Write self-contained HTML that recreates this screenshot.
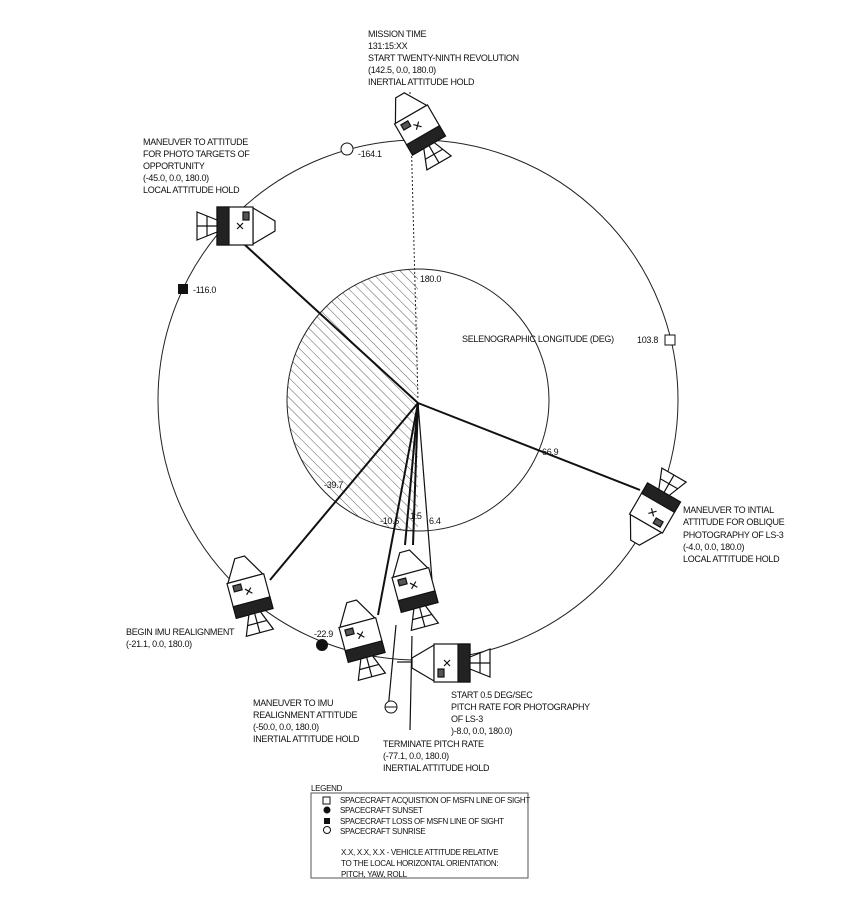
<!DOCTYPE html>
<html><head><meta charset="utf-8"><style>
body{margin:0;background:#fff}
svg{display:block}
text{font-family:"Liberation Sans",sans-serif;font-size:9px;letter-spacing:-0.3px;fill:#111}
</style></head><body>
<svg width="848" height="903" viewBox="0 0 848 903" xmlns="http://www.w3.org/2000/svg">
<defs>
<pattern id="h" width="7" height="7" patternUnits="userSpaceOnUse" patternTransform="rotate(-45)">
<line x1="0" y1="0" x2="0" y2="7" stroke="#333" stroke-width="0.8"/>
</pattern>
<clipPath id="lh"><rect x="0" y="0" width="418" height="903"/></clipPath>
<g id="sc" stroke="#111" stroke-width="1.2" fill="#fff">
<path d="M-5,-40 L5,-40 L18,-18 L-18,-18 Z"/>
<rect x="-19" y="-18" width="38" height="36"/>
<rect x="-19" y="6" width="38" height="12" fill="#222"/>
<path d="M-6,18 L6,18 L14,38 L-14,38 Z"/>
<line x1="0" y1="18" x2="0" y2="38"/>
<line x1="-10" y1="28" x2="10" y2="28"/>
<path d="M-3,-8 l6,6 m0,-6 l-6,6" />
<rect x="-14" y="-14" width="8" height="6" fill="#555"/>
</g>
</defs>
<circle cx="418" cy="400" r="260" fill="none" stroke="#222" stroke-width="1"/>
<circle cx="418" cy="400" r="131" fill="url(#h)" clip-path="url(#lh)"/>
<circle cx="418" cy="400" r="131" fill="none" stroke="#222" stroke-width="1"/>
<line x1="410" y1="92" x2="418" y2="400" stroke="#222" stroke-dasharray="2,2"/>
<g stroke="#111" stroke-width="2">
<line x1="418" y1="403" x2="245" y2="245"/>
<line x1="418" y1="403" x2="640" y2="490"/>
<line x1="418" y1="403" x2="270" y2="580"/>
<line x1="418" y1="403" x2="378" y2="615"/>
<line x1="418" y1="403" x2="405" y2="545"/>
<line x1="418" y1="403" x2="413" y2="545"/>
<line x1="418" y1="403" x2="432" y2="580" stroke-width="1.2"/>
<line x1="396" y1="625" x2="388" y2="710" stroke-width="1.2"/>
<line x1="412" y1="636" x2="410" y2="730" stroke-width="1.2"/>
<line x1="397" y1="662" x2="412" y2="662" stroke-width="1.2"/>
</g>
<use href="#sc" transform="translate(420,130) rotate(-30)"/>
<use href="#sc" transform="translate(235,226) rotate(90)"/>
<use href="#sc" transform="translate(655,508) rotate(-150)"/>
<use href="#sc" transform="translate(250,596) rotate(-15)"/>
<use href="#sc" transform="translate(362,640) rotate(-15)"/>
<use href="#sc" transform="translate(415,590) rotate(-15)"/>
<use href="#sc" transform="translate(452,663) rotate(-90)"/>
<circle cx="347" cy="149" r="6" fill="#fff" stroke="#111"/>
<rect x="178" y="284" width="10" height="10" fill="#111"/>
<rect x="665" y="335" width="10" height="10" fill="#fff" stroke="#111"/>
<circle cx="322" cy="645" r="6" fill="#111"/>
<circle cx="391" cy="707" r="6" fill="#fff" stroke="#111"/><line x1="385" y1="707" x2="397" y2="707" stroke="#111"/>
<text x="368" y="37">MISSION TIME</text>
<text x="368" y="49">131:15:XX</text>
<text x="368" y="61">START TWENTY-NINTH REVOLUTION</text>
<text x="368" y="73">(142.5, 0.0, 180.0)</text>
<text x="368" y="85">INERTIAL ATTITUDE HOLD</text>
<text x="143" y="145">MANEUVER TO ATTITUDE</text>
<text x="143" y="157">FOR PHOTO TARGETS OF</text>
<text x="143" y="169">OPPORTUNITY</text>
<text x="143" y="181">(-45.0, 0.0, 180.0)</text>
<text x="143" y="193">LOCAL ATTITUDE HOLD</text>
<text x="358" y="157">-164.1</text>
<text x="193" y="293">-116.0</text>
<text x="420" y="282">180.0</text>
<text x="462" y="342">SELENOGRAPHIC LONGITUDE (DEG)</text>
<text x="637" y="343">103.8</text>
<text x="542" y="455">66.9</text>
<text x="324" y="488">-39.7</text>
<text x="380" y="524">-10.6</text>
<text x="410" y="519">1.5</text>
<text x="429" y="524">6.4</text>
<text x="683" y="513">MANEUVER TO INTIAL</text>
<text x="683" y="525">ATTITUDE FOR OBLIQUE</text>
<text x="683" y="538">PHOTOGRAPHY OF LS-3</text>
<text x="683" y="550">(-4.0, 0.0, 180.0)</text>
<text x="683" y="562">LOCAL ATTITUDE HOLD</text>
<text x="126" y="635">BEGIN IMU REALIGNMENT</text>
<text x="126" y="647">(-21.1, 0.0, 180.0)</text>
<text x="314" y="637">-22.9</text>
<text x="253" y="706">MANEUVER TO IMU</text>
<text x="253" y="718">REALIGNMENT ATTITUDE</text>
<text x="253" y="730">(-50.0, 0.0, 180.0)</text>
<text x="253" y="742">INERTIAL ATTITUDE HOLD</text>
<text x="451" y="698">START 0.5 DEG/SEC</text>
<text x="451" y="710">PITCH RATE FOR PHOTOGRAPHY</text>
<text x="451" y="722">OF LS-3</text>
<text x="451" y="734">)-8.0, 0.0, 180.0)</text>
<text x="383" y="747">TERMINATE PITCH RATE</text>
<text x="383" y="759">(-77.1, 0.0, 180.0)</text>
<text x="383" y="771">INERTIAL ATTITUDE HOLD</text>
<text x="311" y="791" style="font-size:8px">LEGEND</text>
<rect x="311" y="793" width="217" height="85" fill="none" stroke="#555"/>
<rect x="323" y="797" width="7" height="7" fill="#fff" stroke="#111"/>
<text x="340" y="803" style="font-size:8px">SPACECRAFT ACQUISTION OF MSFN LINE OF SIGHT</text>
<circle cx="327" cy="810" r="3.5" fill="#111"/>
<text x="340" y="813" style="font-size:8px">SPACECRAFT SUNSET</text>
<rect x="324" y="818" width="6" height="6" fill="#111"/>
<text x="340" y="824" style="font-size:8px">SPACECRAFT LOSS OF MSFN LINE OF SIGHT</text>
<circle cx="327" cy="830" r="3.5" fill="#fff" stroke="#111"/>
<text x="340" y="834" style="font-size:8px">SPACECRAFT SUNRISE</text>
<text x="341" y="855" style="font-size:8px">X.X, X.X, X.X - VEHICLE ATTITUDE RELATIVE</text>
<text x="341" y="866" style="font-size:8px">TO THE LOCAL HORIZONTAL ORIENTATION:</text>
<text x="341" y="877" style="font-size:8px">PITCH, YAW, ROLL</text>
</svg>
</body></html>
